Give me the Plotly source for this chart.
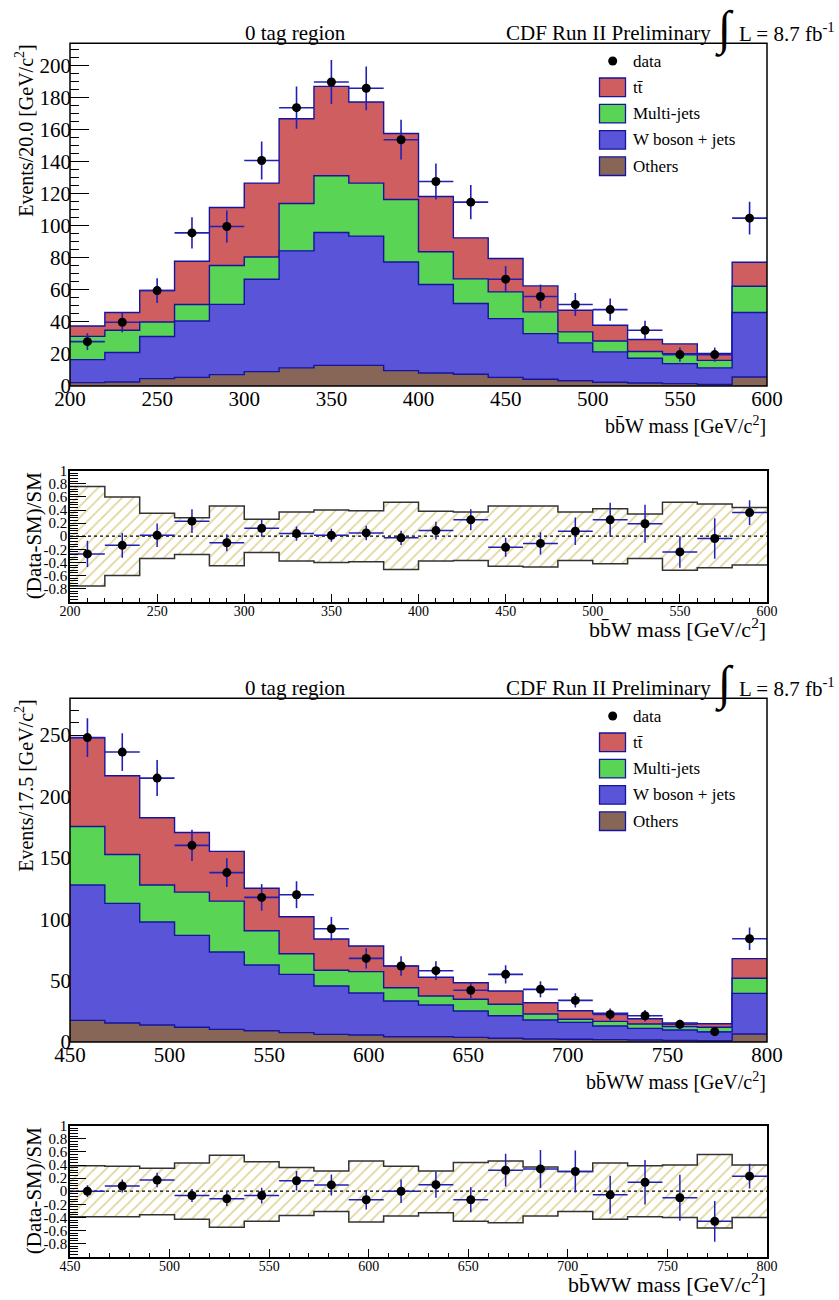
import numpy as np
import plotly.graph_objects as go

# ---------------- canvas ----------------
W, H = 839, 1300
ML, MR = 70, 72
PW = W - ML - MR
FONT = "Liberation Serif"

# ---------------- top panel: bbW mass (0 tag region) ----------------
bbw_lo, bbw_hi, bbw_nbins = 200, 600, 20
bbw_ttbar    = [6.5, 11.1, 19.6, 27.0, 36.3, 46.1, 52.9, 55.8, 50.6, 41.2,
                34.5, 25.6, 20.8, 16.2, 13.5, 9.8, 7.5, 6.1, 4.4, 15.0]
bbw_multijet = [14.5, 13.9, 9.1, 10.3, 24.2, 13.9, 29.6, 35.4, 33.1, 39.1,
                20.4, 15.4, 16.7, 13.6, 6.9, 6.8, 4.2, 6.2, 4.7, 16.4]
bbw_wjets    = [14.4, 18.4, 26.3, 35.2, 43.9, 57.7, 73.1, 83.0, 80.7, 67.8,
                55.3, 44.2, 36.7, 28.5, 23.6, 19.0, 15.4, 12.5, 10.4, 40.3]
bbw_others   = [2.1, 2.5, 4.6, 5.4, 7.1, 9.0, 11.3, 12.9, 12.9, 9.6,
                8.1, 7.3, 5.4, 4.2, 3.3, 2.3, 1.9, 1.5, 0.9, 5.6]
bbw_data     = [27.7, 39.8, 59.6, 95.6, 99.6, 140.8, 173.8, 189.8, 185.9, 153.8,
                127.7, 114.8, 66.7, 55.9, 50.9, 47.7, 34.8, 19.6, 19.6, 104.8]
bbw_ratio     = [-0.27, -0.14, 0.015, 0.23, -0.10, 0.12, 0.04, 0.015, 0.05, -0.025,
                 0.086, 0.25, -0.17, -0.11, 0.076, 0.25, 0.19, -0.24, -0.035, 0.36]
bbw_ratio_err = [0.20, 0.19, 0.18, 0.18, 0.13, 0.13, 0.11, 0.10, 0.11, 0.11,
                 0.135, 0.16, 0.145, 0.17, 0.21, 0.26, 0.29, 0.24, 0.31, 0.19]
bbw_band_up   = [0.76, 0.60, 0.35, 0.28, 0.46, 0.26, 0.37, 0.40, 0.39, 0.52,
                 0.38, 0.37, 0.46, 0.46, 0.37, 0.42, 0.34, 0.52, 0.49, 0.44]
bbw_band_dn   = [-0.76, -0.60, -0.34, -0.28, -0.45, -0.25, -0.38, -0.40, -0.39, -0.51,
                 -0.38, -0.37, -0.46, -0.47, -0.37, -0.42, -0.34, -0.52, -0.48, -0.44]

# ---------------- bottom panel: bbWW mass (0 tag region) ----------------
bbww_lo, bbww_hi, bbww_nbins = 450, 800, 20
bbww_ttbar    = [72.4, 64.1, 54.8, 48.6, 40.5, 34.6, 30.1, 25.5, 20.9, 17.7,
                 15.2, 13.5, 10.8, 9.2, 7.0, 6.6, 4.3, 3.0, 2.9, 16.0]
bbww_multijet = [47.7, 39.9, 30.2, 35.2, 41.5, 27.9, 16.8, 12.8, 17.4, 10.8,
                 7.4, 9.6, 9.3, 4.9, 2.5, 3.8, 3.6, 2.7, 3.6, 12.3]
bbww_wjets    = [110.3, 97.4, 83.9, 74.9, 63.0, 53.5, 47.5, 39.4, 34.2, 29.1,
                 25.8, 21.4, 18.4, 15.5, 13.8, 11.1, 9.5, 8.5, 7.4, 33.1]
bbww_others   = [17.6, 15.5, 13.8, 12.0, 10.3, 9.2, 7.6, 6.2, 5.7, 4.3,
                 4.3, 3.8, 3.0, 2.4, 2.2, 1.9, 1.6, 1.3, 1.0, 6.5]
bbww_data     = [248.0, 236.2, 215.0, 160.2, 138.0, 117.8, 120.0, 92.3, 68.1, 61.9,
                 58.1, 42.1, 55.1, 42.9, 33.9, 22.5, 21.4, 14.4, 8.4, 84.1]
bbww_ratio     = [0.0, 0.08, 0.17, -0.066, -0.116, -0.066, 0.16, 0.096, -0.13, 0.0,
                  0.10, -0.13, 0.32, 0.34, 0.30, -0.056, 0.136, -0.10, -0.46, 0.23]
bbww_ratio_err = [0.09, 0.10, 0.11, 0.10, 0.11, 0.12, 0.15, 0.16, 0.15, 0.18,
                  0.20, 0.19, 0.25, 0.29, 0.32, 0.29, 0.34, 0.35, 0.31, 0.19]
bbww_band_up   = [0.39, 0.38, 0.35, 0.43, 0.55, 0.45, 0.36, 0.31, 0.46, 0.38,
                  0.31, 0.44, 0.46, 0.37, 0.30, 0.43, 0.39, 0.40, 0.56, 0.40]
bbww_band_dn   = [-0.39, -0.39, -0.36, -0.43, -0.55, -0.46, -0.37, -0.31, -0.47, -0.38,
                  -0.33, -0.46, -0.48, -0.38, -0.31, -0.43, -0.39, -0.40, -0.56, -0.40]

ratio_tickvals = [1, 0.8, 0.6, 0.4, 0.2, 0, -0.2, -0.4, -0.6, -0.8]
ratio_ticktext = ["1", "0.8", "0.6", "0.4", "0.2", "0", "-0.2", "-0.4", "-0.6", "-0.8"]

legend_labels = ["tt\u0304", "Multi-jets", "W boson + jets", "Others"]

# ---------------- styles ----------------
C_TT, C_MJ, C_WJ, C_OT = "#CF5E61", "#59D454", "#5954D8", "#876657"
EDGE = "#1414a0"
EBLUE = "#2020b4"
HATCH = "#C2AA38"


def px(xp):
    return (xp - ML) / PW


def py(yp):
    return 1 - yp / H


fig = go.Figure()
shapes, annotations = [], []


def txt(text, x, y, size, xanchor="center", yanchor="middle", angle=0):
    annotations.append(dict(text=text, x=px(x), y=py(y), xref="paper", yref="paper",
                            showarrow=False, xanchor=xanchor, yanchor=yanchor,
                            textangle=angle, borderpad=0,
                            font=dict(size=size, family=FONT, color="black")))


def add_main(lo, hi, nb, comps, data, xa, ya, top_px, bot_px, ymax, ydt, yminor,
             ytitle, xtitle, header_y):
    edges = np.linspace(lo, hi, nb + 1)
    centers = 0.5 * (edges[:-1] + edges[1:])
    half = (hi - lo) / nb / 2
    tt, mj, wj, ot = [np.array(c, float) for c in comps]
    layers = [(ot + wj + mj + tt, C_TT), (ot + wj + mj, C_MJ), (ot + wj, C_WJ), (ot, C_OT)]
    for cum, col in layers:
        fig.add_trace(go.Scatter(
            x=edges, y=list(cum) + [cum[-1]], mode="lines",
            line=dict(shape="hv", color=EDGE, width=1.4),
            fill="tozeroy", fillcolor=col, xaxis=xa, yaxis=ya,
            showlegend=False, hoverinfo="skip"))
    d = np.array(data, float)
    fig.add_trace(go.Scatter(
        x=centers, y=d, mode="markers", marker=dict(color="black", size=9),
        error_y=dict(type="data", array=np.sqrt(d), color=EBLUE, thickness=1.6, width=0),
        error_x=dict(type="constant", value=half, color=EBLUE, thickness=1.6, width=0),
        xaxis=xa, yaxis=ya, showlegend=False))
    an = xa.replace("x", "")
    fig.update_layout(**{
        "xaxis" + an: dict(domain=[0, 1], anchor=ya, range=[lo, hi], tickmode="linear",
                           tick0=lo, dtick=50, ticks="inside", ticklen=12, tickcolor="black",
                           minor=dict(ticks="inside", dtick=10, ticklen=6, tickcolor="black"),
                           tickfont=dict(size=21, color="black", family=FONT),
                           ticklabelstandoff=-2,
                           showline=False, showgrid=False, zeroline=False,
                           layer="below traces", automargin=False),
        "yaxis" + an: dict(domain=[py(bot_px), py(top_px)], anchor=xa, range=[0, ymax],
                           tickmode="linear", tick0=0, dtick=ydt, ticks="inside", ticklen=19,
                           tickcolor="black",
                           minor=dict(ticks="inside", dtick=yminor, ticklen=9,
                                      tickcolor="black"),
                           tickfont=dict(size=21, color="black", family=FONT),
                           ticklabelstandoff=-2,
                           showline=False, showgrid=False, zeroline=False,
                           layer="below traces", automargin=False),
    })
    shapes.append(dict(type="rect", xref=xa + " domain", yref=ya + " domain",
                       x0=0, x1=1, y0=0, y1=1, line=dict(color="black", width=1.5),
                       fillcolor="rgba(0,0,0,0)", layer="above"))
    # header texts
    txt("0 tag region", 295, header_y, 21)
    txt("CDF Run II Preliminary", 712, header_y, 21, xanchor="right")
    txt("\u222b", 724, header_y - 4, 48)
    txt("L = 8.7 fb<sup>-1</sup>", 836, header_y, 21, xanchor="right")
    # axis titles
    txt(xtitle, 767, bot_px + 39, 20, xanchor="right")
    txt(ytitle, 24, top_px, 20, yanchor="top", angle=-90)
    # legend
    row0 = top_px + 17.7
    step = 26.3
    shapes.append(dict(type="circle", xref="paper", yref="paper",
                       x0=px(612.7 - 4.5), x1=px(612.7 + 4.5),
                       y0=py(row0 + 4.5), y1=py(row0 - 4.5),
                       fillcolor="black", line=dict(color="black", width=0)))
    txt("data", 631.5, row0, 17, xanchor="left")
    for i, (lab, col) in enumerate(zip(legend_labels, [C_TT, C_MJ, C_WJ, C_OT])):
        yc = row0 + step * (i + 1)
        shapes.append(dict(type="rect", xref="paper", yref="paper",
                           x0=px(599.5), x1=px(625.5), y0=py(yc + 9.3), y1=py(yc - 9.3),
                           fillcolor=col, line=dict(color=EDGE, width=1.3)))
        txt(lab, 631.5, yc, 17, xanchor="left")


def add_ratio(lo, hi, nb, ratio, rerr, bup, bdn, xa, ya, top_px, bot_px, xtitle):
    edges = np.linspace(lo, hi, nb + 1)
    centers = 0.5 * (edges[:-1] + edges[1:])
    half = (hi - lo) / nb / 2
    fig.add_trace(go.Scatter(
        x=edges, y=list(bdn) + [bdn[-1]], mode="lines",
        line=dict(shape="hv", color="#333333", width=1.5),
        xaxis=xa, yaxis=ya, showlegend=False, hoverinfo="skip"))
    fig.add_trace(go.Scatter(
        x=edges, y=list(bup) + [bup[-1]], mode="lines",
        line=dict(shape="hv", color="#333333", width=1.5),
        fill="tonexty", fillcolor="rgba(255,255,255,0)",
        fillpattern=dict(shape="/", fgcolor=HATCH, bgcolor="rgba(255,255,255,0)",
                         size=8, solidity=0.22),
        xaxis=xa, yaxis=ya, showlegend=False, hoverinfo="skip"))
    fig.add_trace(go.Scatter(
        x=[lo, hi], y=[0, 0], mode="lines", line=dict(color="black", width=1.3, dash="dot"),
        xaxis=xa, yaxis=ya, showlegend=False, hoverinfo="skip"))
    fig.add_trace(go.Scatter(
        x=centers, y=ratio, mode="markers", marker=dict(color="black", size=9),
        error_y=dict(type="data", array=rerr, color=EBLUE, thickness=1.5, width=0),
        error_x=dict(type="constant", value=half, color=EBLUE, thickness=1.5, width=0),
        xaxis=xa, yaxis=ya, showlegend=False))
    an = xa.replace("x", "")
    minor_y = [round(-1 + 0.04 * k, 2) for k in range(51)]
    fig.update_layout(**{
        "xaxis" + an: dict(domain=[0, 1], anchor=ya, range=[lo, hi], tickmode="linear",
                           tick0=lo, dtick=50, ticks="inside", ticklen=8, tickcolor="black",
                           minor=dict(ticks="inside", dtick=10, ticklen=4, tickcolor="black"),
                           tickfont=dict(size=14, color="black", family=FONT),
                           ticklabelstandoff=-4,
                           showline=True, mirror=True, linecolor="black", linewidth=1.5,
                           showgrid=False, zeroline=False, automargin=False),
        "yaxis" + an: dict(domain=[py(bot_px), py(top_px)], anchor=xa, range=[-1, 1],
                           tickmode="array", tickvals=ratio_tickvals, ticktext=ratio_ticktext,
                           ticks="inside", ticklen=16, tickcolor="black",
                           minor=dict(ticks="inside", tickmode="array", tickvals=minor_y,
                                      ticklen=8, tickcolor="black"),
                           tickfont=dict(size=15, color="black", family=FONT),
                           ticklabelstandoff=-2,
                           showline=True, mirror=True, linecolor="black", linewidth=1.5,
                           showgrid=False, zeroline=False, automargin=False),
    })
    txt("(Data-SM)/SM", 34, 0.5 * (top_px + bot_px), 21, angle=-90)
    txt(xtitle, 767, bot_px + 26.5, 22, xanchor="right")


add_main(bbw_lo, bbw_hi, bbw_nbins, [bbw_ttbar, bbw_multijet, bbw_wjets, bbw_others],
         bbw_data, "x", "y", 43.3, 386.0, 214, 20, 5,
         "Events/20.0 [GeV/c<sup>2</sup>]", "bb\u0304W mass [GeV/c<sup>2</sup>]", 33)
add_ratio(bbw_lo, bbw_hi, bbw_nbins, bbw_ratio, bbw_ratio_err, bbw_band_up, bbw_band_dn,
          "x2", "y2", 470.7, 601.7, "bb\u0304W mass [GeV/c<sup>2</sup>]")
add_main(bbww_lo, bbww_hi, bbww_nbins, [bbww_ttbar, bbww_multijet, bbww_wjets, bbww_others],
         bbww_data, "x3", "y3", 698.3, 1042.0, 280, 50, 10,
         "Events/17.5 [GeV/c<sup>2</sup>]", "bb\u0304WW mass [GeV/c<sup>2</sup>]", 687.7)
add_ratio(bbww_lo, bbww_hi, bbww_nbins, bbww_ratio, bbww_ratio_err, bbww_band_up,
          bbww_band_dn, "x4", "y4", 1125.7, 1256.7, "bb\u0304WW mass [GeV/c<sup>2</sup>]")

fig.update_layout(width=W, height=H, margin=dict(l=ML, r=MR, t=0, b=0, autoexpand=False),
                  paper_bgcolor="white", plot_bgcolor="white", showlegend=False,
                  font=dict(family=FONT, color="black"),
                  shapes=shapes, annotations=annotations)

# remove the browser's default 8px page margin so the figure fills the window exactly
fig.write_html("out.html",
               config={"displayModeBar": False},
               post_script="document.body.style.margin='0px';"
                           "document.body.style.overflow='hidden';")
